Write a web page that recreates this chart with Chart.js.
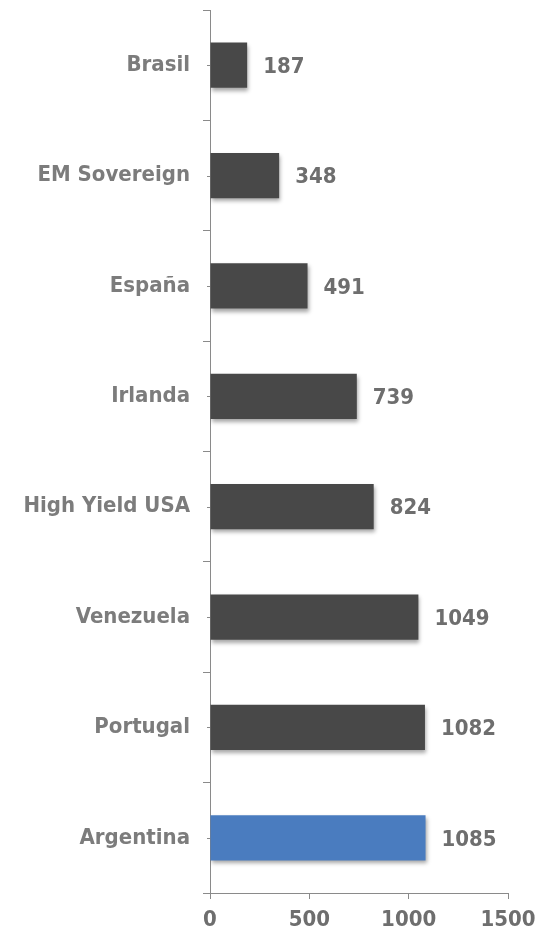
<!DOCTYPE html>
<html>
<head>
<meta charset="utf-8">
<script src="https://cdn.jsdelivr.net/npm/chart.js@4.4.1/dist/chart.umd.min.js"></script>
<style>
  html, body { margin: 0; padding: 0; background: #fff; }
  #wrap { width: 551px; height: 936px; }
</style>
</head>
<body>
<div id="wrap"><canvas id="chart1"></canvas></div>
<script>
const categories = ['Brasil', 'EM Sovereign', 'España', 'Irlanda', 'High Yield USA', 'Venezuela', 'Portugal', 'Argentina'];
const spreads = [187, 348, 491, 739, 824, 1049, 1082, 1085];
const barColors = ['#484848', '#484848', '#484848', '#484848', '#484848', '#484848', '#484848', '#4a7cbf'];
const xTicks = [0, 500, 1000, 1500];

const labelFont = { family: 'DejaVu Sans Condensed', weight: 'bold', size: 22 };

// value labels next to each bar + small ticks at category centres
const extras = {
  id: 'extras',
  beforeDatasetsDraw(chart) {
    const ctx = chart.ctx;
    ctx.save();
    ctx.shadowColor = 'rgba(0,0,0,0.35)';
    ctx.shadowBlur = 4;
    ctx.shadowOffsetX = 1;
    ctx.shadowOffsetY = 3;
  },
  afterDatasetsDraw(chart) {
    const ctx = chart.ctx;
    ctx.restore();
    const meta = chart.getDatasetMeta(0);
    ctx.save();
    ctx.font = 'bold 22px "DejaVu Sans Condensed"';
    ctx.fillStyle = '#6e6e6e';
    ctx.textBaseline = 'middle';
    meta.data.forEach(function(bar, i) {
      ctx.fillText(spreads[i], bar.x + 16, bar.y + 2);
    });
    const y = chart.scales.y;
    ctx.strokeStyle = '#8a8a8a';
    ctx.lineWidth = 1;
    categories.forEach(function(c, i) {
      const py = Math.round(y.getPixelForValue(i)) + 0.5;
      ctx.beginPath();
      ctx.moveTo(y.right - 3, py);
      ctx.lineTo(y.right, py);
      ctx.stroke();
    });
    ctx.restore();
  }
};

new Chart(document.getElementById('chart1'), {
  type: 'bar',
  data: {
    labels: categories,
    datasets: [{
      data: spreads,
      backgroundColor: barColors,
      borderWidth: 0,
      barPercentage: 0.41,
      categoryPercentage: 1
    }]
  },
  options: {
    indexAxis: 'y',
    responsive: true,
    maintainAspectRatio: false,
    animation: false,
    layout: { padding: { left: 4, right: 43, top: 10, bottom: 0 } },
    plugins: {
      legend: { display: false },
      tooltip: { enabled: false }
    },
    scales: {
      x: {
        min: 0,
        max: 1500,
        afterBuildTicks: function(scale) {
          scale.ticks = xTicks.map(function(v) { return { value: v }; });
        },
        afterFit: function(scale) { scale.height = 43; },
        border: { display: true, color: '#8a8a8a', width: 1 },
        grid: { drawOnChartArea: false, drawTicks: true, tickLength: 6, color: '#8a8a8a' },
        ticks: {
          color: '#6e6e6e',
          font: { family: 'DejaVu Sans Condensed', weight: 'bold', size: 22 },
          padding: 8,
          maxRotation: 0,
          callback: function(v) { return String(v); }
        }
      },
      y: {
        afterFit: function(scale) {
          scale.width = 206;
          scale.paddingTop = 0;
          scale.paddingBottom = 0;
        },
        border: { display: true, color: '#8a8a8a', width: 1 },
        grid: { offset: true, drawOnChartArea: false, drawTicks: true, tickLength: 7, color: '#8a8a8a' },
        ticks: { color: '#7c7c7c', font: labelFont, padding: 13 }
      }
    }
  },
  plugins: [extras]
});
</script>
</body>
</html>
